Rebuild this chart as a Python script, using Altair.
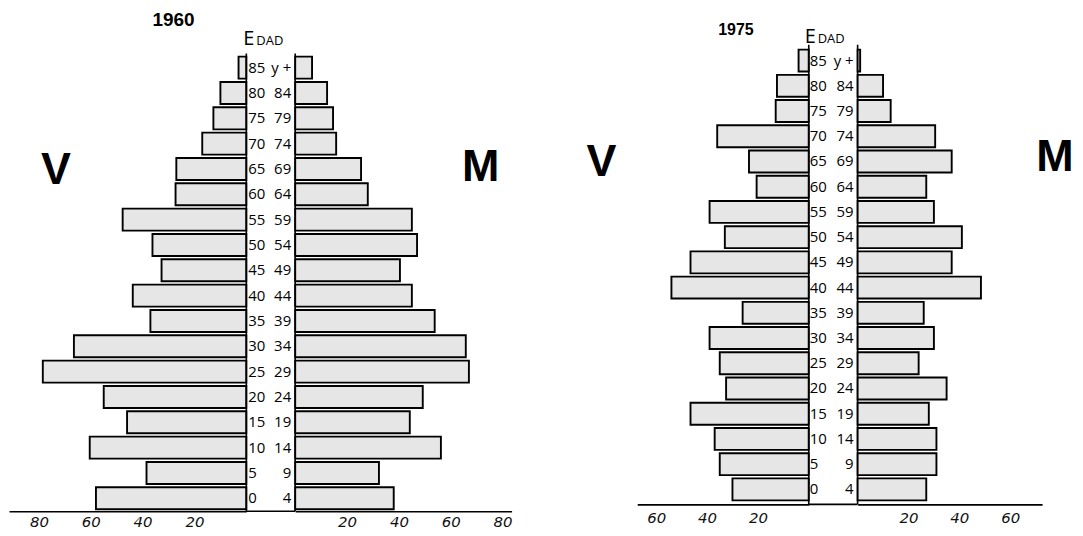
import altair as alt
import pandas as pd

# ---- data ----
groups = ["85+", "80-84", "75-79", "70-74", "65-69", "60-64", "55-59", "50-54",
          "45-49", "40-44", "35-39", "30-34", "25-29", "20-24", "15-19", "10-14", "5-9", "0-4"]
low_labels = ["85", "80", "75", "70", "65", "60", "55", "50", "45", "40",
              "35", "30", "25", "20", "15", "10", "5", "0"]
high_labels = ["y +", "84", "79", "74", "69", "64", "59", "54", "49", "44",
               "39", "34", "29", "24", "19", "14", "9", "4"]

v1960 = [3, 10, 12.7, 17, 27, 27.3, 47.7, 36.2, 32.7, 43.8, 37, 66.5, 78.5, 55, 46, 60.4, 38.5, 58]
m1960 = [6.5, 12.3, 14.6, 15.8, 25.4, 28, 45, 47, 40.4, 45, 53.8, 65.8, 67, 49.2, 44.2, 56.2, 32.3, 38]
v1975 = [4, 12.5, 13, 36, 23.5, 20.5, 39, 33, 46.5, 54, 26, 39, 35, 32.5, 46.5, 37, 35, 30]
m1975 = [1, 10, 13, 30.5, 37, 27, 30, 41, 37, 48.5, 26, 30, 24, 35, 28, 31, 31, 27]

ticks1960 = [20, 40, 60, 80]
ticks1975 = [20, 40, 60]

FILL = "#e6e6e6"
LABEL_FONT = "Open Sans"
BOLD_FONT = "Liberation Sans"


def yscale(po, al):
    return alt.Scale(type="band", domain=groups, paddingInner=0.13, paddingOuter=po, align=al)


def text_layer(txt, x, y, size, font=BOLD_FONT, weight="bold", align="center"):
    return alt.Chart(pd.DataFrame({"t": [txt]})).mark_text(
        font=font, fontSize=size, fontWeight=weight, align=align,
        baseline="alphabetic", color="black"
    ).encode(text="t:N", x=alt.value(x), y=alt.value(y))


def side(values, width, dom, H, ys, reverse, ticks, pad, extras):
    df = pd.DataFrame({"grupo": groups, "valor": values})
    bars = alt.Chart(df).mark_bar(fill=FILL, stroke="black", strokeWidth=1.9).encode(
        x=alt.X("valor:Q",
                scale=alt.Scale(domain=[0, dom], reverse=reverse, nice=False, zero=True),
                axis=alt.Axis(values=ticks, title=None, grid=False, ticks=False, tickSize=0,
                              domainColor="black", domainWidth=1.6,
                              labelFont="DejaVu Sans", labelFontStyle="italic",
                              labelFontSize=15, labelColor="#111", labelPadding=pad,
                              labelFlush=False)),
        y=alt.Y("grupo:N", scale=ys, axis=None),
    )
    return alt.layer(bars, *extras).properties(width=width, height=H)


def center(width, H, ys, line_top, edad_x, edad_base, dad_x, lx, rx):
    df = pd.DataFrame({"grupo": groups, "lo": low_labels, "hi": high_labels})
    base = alt.Chart(df)
    lo = base.mark_text(font=LABEL_FONT, fontSize=15, align="left",
                        baseline="middle", color="black").encode(
        text="lo:N", y=alt.Y("grupo:N", scale=ys, axis=None, bandPosition=0.5),
        x=alt.value(lx))
    hi = base.mark_text(font=LABEL_FONT, fontSize=15, align="right",
                        baseline="middle", color="black").encode(
        text="hi:N", y=alt.Y("grupo:N", scale=ys, axis=None, bandPosition=0.5),
        x=alt.value(rx))
    one = alt.Chart(pd.DataFrame({"k": [0]}))
    l1 = one.mark_rule(color="black", strokeWidth=1.6).encode(
        x=alt.value(0), y=alt.value(line_top), y2=alt.value(H))
    l2 = one.mark_rule(color="black", strokeWidth=1.6).encode(
        x=alt.value(width), y=alt.value(line_top), y2=alt.value(H))
    l3 = one.mark_rule(color="black", strokeWidth=1.6).encode(
        x=alt.value(0), x2=alt.value(width), y=alt.value(H))
    e = text_layer("E", edad_x, edad_base, 20, font=LABEL_FONT, weight="normal", align="left")
    dad = text_layer("DAD", dad_x, edad_base, 13, font=LABEL_FONT, weight="normal", align="left")
    return alt.layer(lo, hi, l1, l2, l3, e, dad).properties(width=width, height=H)


# ---- 1960 ----
H1 = 503
ys1 = yscale(0.965, 0.959)
L1 = side(v1960, 238, 238 / 2.6, H1, ys1, True, ticks1960, 3,
          [text_layer("1960", 165, 16, 19), text_layer("V", 47, 175, 45)])
C1 = center(49, H1, ys1, 44, -3, 35, 10, 2, 45)
R1 = side(m1960, 217, 217 / 2.6, H1, ys1, False, ticks1960, 3,
          [text_layer("M", 186, 172, 45)])

# ---- empty spacer between the two pyramids ----
GAP = alt.Chart(pd.DataFrame({"k": [0]})).mark_rule(opacity=0).encode(
    x=alt.value(10), y=alt.value(200), y2=alt.value(300)).properties(width=126, height=H1)

# ---- 1975 ----
H2 = 496
ys2 = yscale(0.87, 0.909)
L2 = side(v1975, 172, 172 / 2.55, H2, ys2, True, ticks1975, 6,
          [text_layer("1975", 99, 25, 16), text_layer("V", -36, 167, 45)])
C2 = center(49, H2, ys2, 35, -4, 33, 9, 1, 45)
R2 = side(m1975, 185, 185 / 2.55, H2, ys2, False, ticks1975, 6,
          [text_layer("M", 198, 162, 45)])

chart = alt.hconcat(L1, C1, R1, GAP, L2, C2, R2, spacing=0, bounds="flush").properties(
    padding=0, background="white"
).configure_view(stroke="transparent")

chart.save("out.html", embed_options={"renderer": "svg", "actions": False})
